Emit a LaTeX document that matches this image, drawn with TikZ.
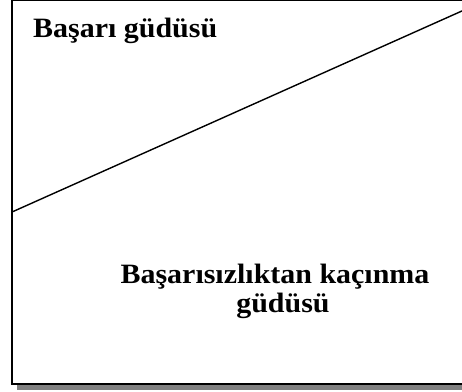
\documentclass[tikz,border=0pt]{standalone}
\usepackage{fontspec}
\setmainfont{Liberation Serif}
\tikzset{
  lbl/.style={inner sep=0pt, font=\bfseries\fontsize{28}{30}\selectfont},
  frame/.style={draw=black, line width=2pt},
}
\newcommand{\hstretch}[1]{\scalebox{1.07}[1]{#1}}
\begin{document}
\begin{tikzpicture}[x=1pt,y=-1pt]
\useasboundingbox (0,0) rectangle (462,391);
\clip (0,0) rectangle (462,391);
% shadow
\fill[black!50] (17,6) rectangle (475,390);
% box
\fill[white] (12,0.5) rectangle (475,384);
\draw[black, line width=0.8pt] (12,0.5) -- (475,0.5);
\draw[frame] (12,0) -- (12,384) -- (475,384);
% diagonal
\coordinate (dl) at (12,212);
\coordinate (dr) at (463,10.5);
\draw[line width=1.4pt] (dl) -- (dr);
% labels
\node[lbl, anchor=base west] (t1) at (33,37) {\hstretch{Başarı güdüsü}};
\node[lbl, anchor=base] (t2) at (275,283) {\hstretch{Başarısızlıktan kaçınma}};
\node[lbl, anchor=base] (t3) at (283,312) {\hstretch{güdüsü}};
\end{tikzpicture}
\end{document}
